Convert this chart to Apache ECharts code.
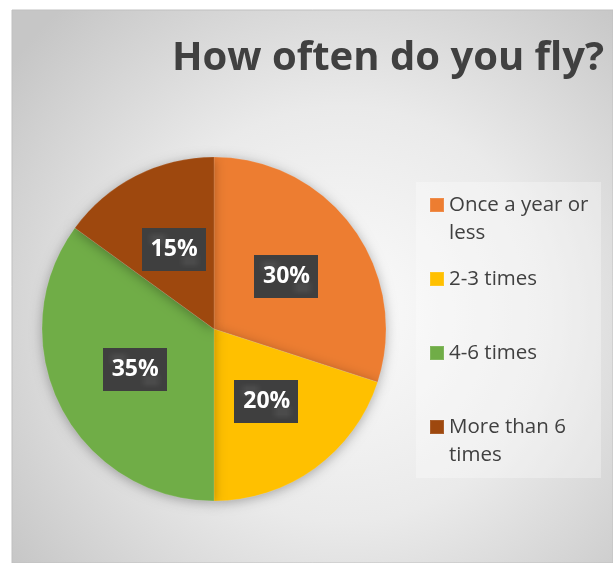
<!DOCTYPE html>
<html><head><meta charset="utf-8">
<script src="https://cdn.jsdelivr.net/npm/echarts@6/dist/echarts.min.js"></script>
<style>html,body{margin:0;padding:0;background:#fff}#c{width:613px;height:563px}</style>
</head><body><div id="c"></div>
<script>
const titleText = 'How often do you fly?';
const categories = ['Once a year or less', '2-3 times', '4-6 times', 'More than 6 times'];
const legendLabels = ['Once a year or\nless', '2-3 times', '4-6 times', 'More than 6\ntimes'];
const values = [30, 20, 35, 15];
const colors = ['#ED7D31', '#FFC000', '#70AD47', '#9E480E'];

const FONT = '"Open Sans", sans-serif';

// dotted dark texture for data labels
const pat = document.createElement('canvas');
pat.width = 8; pat.height = 8;
const pc = pat.getContext('2d');
pc.fillStyle = '#3f3f3f'; pc.fillRect(0, 0, 8, 8);
pc.fillStyle = '#4b4b4b'; pc.fillRect(1, 1, 2, 2); pc.fillRect(5, 5, 2, 2);

const chart = echarts.init(document.getElementById('c'), null, {renderer: 'canvas'});
const legendTops = [163, 265, 339, 385];
const twoLine = [true, false, false, true];
const legends = categories.map((c, i) => ({
  orient: 'vertical', left: 429, top: legendTops[i], padding: 0,
  itemWidth: 14, itemHeight: 14, icon: 'rect',
  data: [c],
  formatter: () => (twoLine[i] ? '\n' : '') + legendLabels[i],
  textStyle: {fontFamily: FONT, fontSize: 20.5, color: '#404040', lineHeight: 28}
}));

chart.setOption({
  backgroundColor: '#fff',
  animation: false,
  color: colors,
  graphic: [
    {type: 'rect', z: -10, shape: {x: 12, y: 10, width: 601, height: 553},
     style: {fill: new echarts.graphic.RadialGradient(0.55, 0.55, 0.75, [
       {offset: 0, color: '#fbfbfb'}, {offset: 0.5, color: '#eaeaea'}, {offset: 1, color: '#c6c6c6'}]),
       stroke: '#c0c0c0', lineWidth: 1}},
    {type: 'rect', z: -9, shape: {x: 416, y: 182, width: 185, height: 296},
     style: {fill: 'rgba(255,255,255,0.3)'}}
  ],
  title: {text: titleText, left: 172, top: 39, padding: 0,
    textStyle: {fontFamily: FONT, fontWeight: 'bold', fontSize: 40, color: '#404040'}},
  legend: legends,
  series: [{
    type: 'pie', center: [214, 329], radius: 172, startAngle: 90, clockwise: true,
    data: categories.map((c, i) => ({name: c, value: values[i]})),
    itemStyle: {borderColor: 'rgba(255,255,255,0.12)', borderWidth: 1,
      shadowBlur: 12, shadowColor: 'rgba(0,0,0,0.3)', shadowOffsetY: 2},
    label: {position: 'inside', formatter: '{c}%', fontFamily: FONT, fontWeight: 'bold', fontSize: 23,
      lineHeight: 25, color: '#fff', backgroundColor: {image: pat, repeat: 'repeat'}, padding: [9, 8, 9, 9],
      shadowBlur: 4, shadowColor: 'rgba(0,0,0,0.5)', shadowOffsetX: 2, shadowOffsetY: 2},
    labelLine: {show: false},
    emphasis: {disabled: true}
  }]
});
</script></body></html>
